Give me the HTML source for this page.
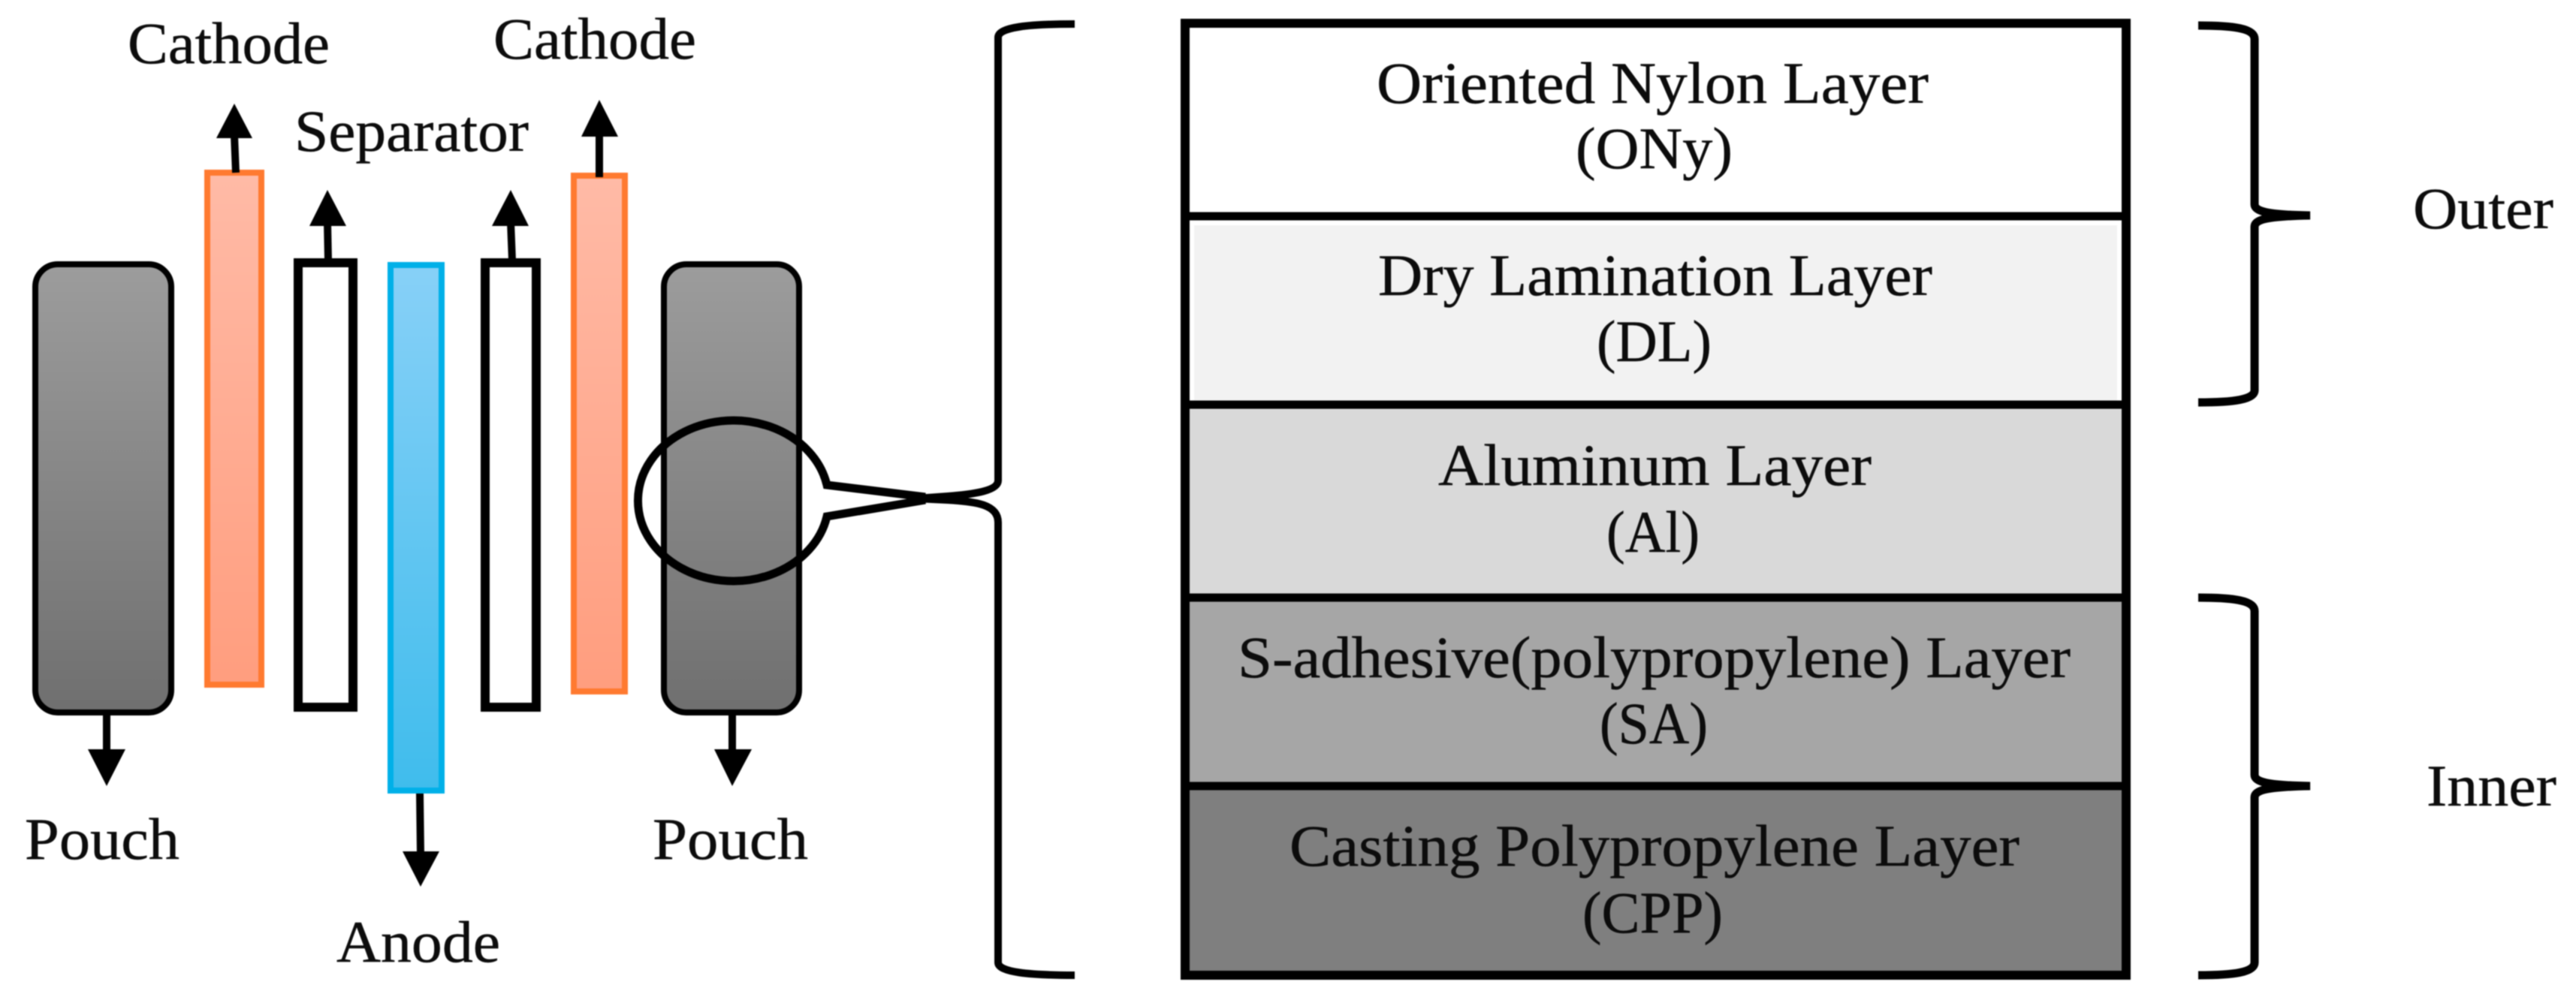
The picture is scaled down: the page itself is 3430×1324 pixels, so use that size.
<!DOCTYPE html>
<html>
<head>
<meta charset="utf-8">
<style>
html,body{margin:0;padding:0;background:#fff;width:3430px;height:1324px;overflow:hidden}
svg{display:block;filter:blur(0.8px)}
text{font-family:"Liberation Serif",serif;font-size:78px;fill:#0c0c0c;stroke:#0c0c0c;stroke-width:0.5px}
</style>
</head>
<body>
<svg width="3430" height="1324" viewBox="0 0 3430 1324" xmlns="http://www.w3.org/2000/svg">
<defs>
<linearGradient id="g" x1="0" y1="0" x2="0" y2="1"><stop offset="0" stop-color="#9c9c9c"/><stop offset="1" stop-color="#6f6f6f"/></linearGradient>
<linearGradient id="o" x1="0" y1="0" x2="0" y2="1"><stop offset="0" stop-color="#ffbaa6"/><stop offset="1" stop-color="#ff9d7e"/></linearGradient>
<linearGradient id="b" x1="0" y1="0" x2="0" y2="1"><stop offset="0" stop-color="#87d0f7"/><stop offset="1" stop-color="#3fbcec"/></linearGradient>
</defs>
<rect width="3430" height="1324" fill="#fff"/>

<!-- pouches -->
<rect x="47" y="352" width="181" height="597" rx="30" fill="url(#g)" stroke="#000" stroke-width="8"/>
<rect x="884" y="352" width="180" height="597" rx="30" fill="url(#g)" stroke="#000" stroke-width="8"/>
<!-- cathodes -->
<rect x="276" y="230" width="72" height="682" fill="url(#o)" stroke="#ff7a30" stroke-width="8"/>
<rect x="764" y="234" width="68" height="687" fill="url(#o)" stroke="#ff7a30" stroke-width="8"/>
<!-- separators -->
<rect x="397" y="350" width="73" height="592" fill="#fff" stroke="#000" stroke-width="12"/>
<rect x="646" y="350" width="68" height="592" fill="#fff" stroke="#000" stroke-width="12"/>
<!-- anode -->
<rect x="520" y="353" width="68" height="700" fill="url(#b)" stroke="#00b0e8" stroke-width="8"/>

<!-- arrows -->
<g stroke="#000" stroke-width="10" fill="none">
<line x1="314" y1="230" x2="312" y2="180"/>
<line x1="437" y1="347" x2="436" y2="296"/>
<line x1="682" y1="347" x2="680" y2="296"/>
<line x1="798" y1="236" x2="798" y2="178"/>
<line x1="142" y1="952" x2="142" y2="1002"/>
<line x1="975" y1="952" x2="975" y2="1002"/>
<line x1="559" y1="1057" x2="560" y2="1138"/>
</g>
<g fill="#000">
<polygon points="312,138 288,184 336,184"/>
<polygon points="436,253 412,301 461,301"/>
<polygon points="680,253 655,301 704,301"/>
<polygon points="798,133 774,182 823,182"/>
<polygon points="142,1047 117,998 167,998"/>
<polygon points="975,1047 951,998 1001,998"/>
<polygon points="560,1181 536,1134 585,1134"/>
</g>

<!-- callout -->
<path d="M1232,662 L1101,646 A127,107 0 1 0 1101,688 L1232,666" fill="none" stroke="#000" stroke-width="11" stroke-linejoin="miter"/>
<!-- left brace -->
<path d="M1431,32 C1370,32 1329,36 1329,50 L1329,640 C1329,653 1300,658 1262,661 L1220,664 L1262,666 C1300,668 1329,672 1329,696 L1329,1282 C1329,1295 1370,1299 1431,1299" fill="none" stroke="#000" stroke-width="10"/>

<!-- layer stack -->
<rect x="1578" y="31" width="1253" height="257" fill="#fff"/>
<rect x="1590" y="300" width="1229" height="233" fill="#f2f2f2"/>
<rect x="1578" y="539" width="1253" height="257" fill="#d9d9d9"/>
<rect x="1578" y="796" width="1253" height="251" fill="#a6a6a6"/>
<rect x="1578" y="1047" width="1253" height="252" fill="#7f7f7f"/>
<g stroke="#000" stroke-width="11" fill="none">
<line x1="1578" y1="288" x2="2831" y2="288"/>
<line x1="1578" y1="539" x2="2831" y2="539"/>
<line x1="1578" y1="796" x2="2831" y2="796"/>
<line x1="1578" y1="1047" x2="2831" y2="1047"/>
</g>
<rect x="1578" y="31" width="1253" height="1268" fill="none" stroke="#000" stroke-width="12"/>

<!-- right braces -->
<path d="M2927,34 C2975,34 3002,38 3002,52 L3002,272 C3002,282 3020,286 3076,287 C3020,288 3002,292 3002,302 L3002,520 C3002,532 2975,536 2927,536" fill="none" stroke="#000" stroke-width="11"/>
<path d="M2927,796 C2975,796 3002,800 3002,814 L3002,1032 C3002,1042 3020,1046 3076,1047 C3020,1048 3002,1052 3002,1062 L3002,1282 C3002,1295 2975,1299 2927,1299" fill="none" stroke="#000" stroke-width="11"/>

<!-- labels -->
<g>
<text x="170" y="84" textLength="269" lengthAdjust="spacingAndGlyphs">Cathode</text>
<text x="657" y="78" textLength="270" lengthAdjust="spacingAndGlyphs">Cathode</text>
<text x="392" y="201" textLength="312" lengthAdjust="spacingAndGlyphs">Separator</text>
<text x="33" y="1144" textLength="206" lengthAdjust="spacingAndGlyphs">Pouch</text>
<text x="869" y="1144" textLength="207" lengthAdjust="spacingAndGlyphs">Pouch</text>
<text x="448" y="1281" textLength="218" lengthAdjust="spacingAndGlyphs">Anode</text>

<text x="1833" y="137" textLength="735" lengthAdjust="spacingAndGlyphs">Oriented Nylon Layer</text>
<text x="2098" y="224" textLength="209" lengthAdjust="spacingAndGlyphs">(ONy)</text>
<text x="1835" y="393" textLength="738" lengthAdjust="spacingAndGlyphs">Dry Lamination Layer</text>
<text x="2126" y="481" textLength="153" lengthAdjust="spacingAndGlyphs">(DL)</text>
<text x="1915" y="646" textLength="577" lengthAdjust="spacingAndGlyphs">Aluminum Layer</text>
<text x="2139" y="735" textLength="124" lengthAdjust="spacingAndGlyphs">(Al)</text>
<text x="1648" y="902" textLength="1109" lengthAdjust="spacingAndGlyphs">S-adhesive(polypropylene) Layer</text>
<text x="2130" y="990" textLength="144" lengthAdjust="spacingAndGlyphs">(SA)</text>
<text x="1717" y="1153" textLength="972" lengthAdjust="spacingAndGlyphs">Casting Polypropylene Layer</text>
<text x="2107" y="1242" textLength="187" lengthAdjust="spacingAndGlyphs">(CPP)</text>
<text x="3213" y="304" textLength="187" lengthAdjust="spacingAndGlyphs">Outer</text>
<text x="3231" y="1073" textLength="173" lengthAdjust="spacingAndGlyphs">Inner</text>
</g>
</svg>
</body>
</html>
